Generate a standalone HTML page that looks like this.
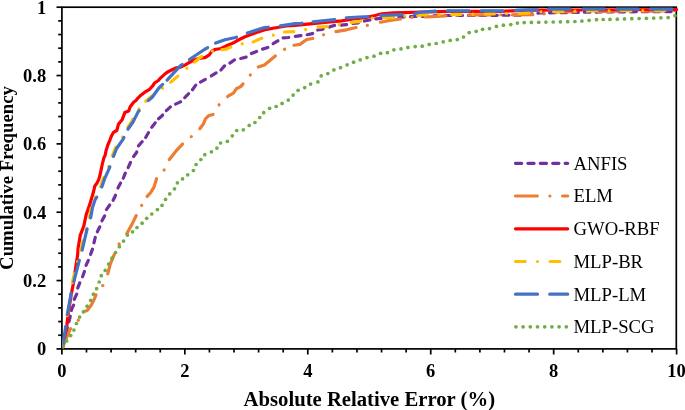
<!DOCTYPE html>
<html><head><meta charset="utf-8"><style>
html,body{margin:0;padding:0;background:#fff;width:685px;height:410px;overflow:hidden}
svg{display:block;filter:blur(0.35px)}
text{font-family:"Liberation Serif",serif}
</style></head><body>
<svg width="685" height="410" viewBox="0 0 685 410">
<rect width="685" height="410" fill="#fff"/>
<defs><clipPath id="pc"><rect x="62.4" y="0" width="622" height="348.2"/></clipPath></defs>
<g stroke="#000" stroke-width="1.7" fill="none">
<rect x="61.9" y="7.2" width="614.40" height="341.70"/>
<line x1="56.5" y1="348.90" x2="61.9" y2="348.90"/>
<line x1="58.2" y1="335.23" x2="61.9" y2="335.23"/>
<line x1="58.2" y1="321.56" x2="61.9" y2="321.56"/>
<line x1="58.2" y1="307.90" x2="61.9" y2="307.90"/>
<line x1="58.2" y1="294.23" x2="61.9" y2="294.23"/>
<line x1="56.5" y1="280.56" x2="61.9" y2="280.56"/>
<line x1="58.2" y1="266.89" x2="61.9" y2="266.89"/>
<line x1="58.2" y1="253.22" x2="61.9" y2="253.22"/>
<line x1="58.2" y1="239.56" x2="61.9" y2="239.56"/>
<line x1="58.2" y1="225.89" x2="61.9" y2="225.89"/>
<line x1="56.5" y1="212.22" x2="61.9" y2="212.22"/>
<line x1="58.2" y1="198.55" x2="61.9" y2="198.55"/>
<line x1="58.2" y1="184.88" x2="61.9" y2="184.88"/>
<line x1="58.2" y1="171.22" x2="61.9" y2="171.22"/>
<line x1="58.2" y1="157.55" x2="61.9" y2="157.55"/>
<line x1="56.5" y1="143.88" x2="61.9" y2="143.88"/>
<line x1="58.2" y1="130.21" x2="61.9" y2="130.21"/>
<line x1="58.2" y1="116.54" x2="61.9" y2="116.54"/>
<line x1="58.2" y1="102.88" x2="61.9" y2="102.88"/>
<line x1="58.2" y1="89.21" x2="61.9" y2="89.21"/>
<line x1="56.5" y1="75.54" x2="61.9" y2="75.54"/>
<line x1="58.2" y1="61.87" x2="61.9" y2="61.87"/>
<line x1="58.2" y1="48.20" x2="61.9" y2="48.20"/>
<line x1="58.2" y1="34.54" x2="61.9" y2="34.54"/>
<line x1="58.2" y1="20.87" x2="61.9" y2="20.87"/>
<line x1="56.5" y1="7.20" x2="61.9" y2="7.20"/>
<line x1="61.90" y1="348.9" x2="61.90" y2="354.5"/>
<line x1="86.49" y1="348.9" x2="86.49" y2="352.5"/>
<line x1="111.08" y1="348.9" x2="111.08" y2="352.5"/>
<line x1="135.66" y1="348.9" x2="135.66" y2="352.5"/>
<line x1="160.25" y1="348.9" x2="160.25" y2="352.5"/>
<line x1="184.84" y1="348.9" x2="184.84" y2="354.5"/>
<line x1="209.43" y1="348.9" x2="209.43" y2="352.5"/>
<line x1="234.02" y1="348.9" x2="234.02" y2="352.5"/>
<line x1="258.60" y1="348.9" x2="258.60" y2="352.5"/>
<line x1="283.19" y1="348.9" x2="283.19" y2="352.5"/>
<line x1="307.78" y1="348.9" x2="307.78" y2="354.5"/>
<line x1="332.37" y1="348.9" x2="332.37" y2="352.5"/>
<line x1="356.96" y1="348.9" x2="356.96" y2="352.5"/>
<line x1="381.54" y1="348.9" x2="381.54" y2="352.5"/>
<line x1="406.13" y1="348.9" x2="406.13" y2="352.5"/>
<line x1="430.72" y1="348.9" x2="430.72" y2="354.5"/>
<line x1="455.31" y1="348.9" x2="455.31" y2="352.5"/>
<line x1="479.90" y1="348.9" x2="479.90" y2="352.5"/>
<line x1="504.48" y1="348.9" x2="504.48" y2="352.5"/>
<line x1="529.07" y1="348.9" x2="529.07" y2="352.5"/>
<line x1="553.66" y1="348.9" x2="553.66" y2="354.5"/>
<line x1="578.25" y1="348.9" x2="578.25" y2="352.5"/>
<line x1="602.84" y1="348.9" x2="602.84" y2="352.5"/>
<line x1="627.42" y1="348.9" x2="627.42" y2="352.5"/>
<line x1="652.01" y1="348.9" x2="652.01" y2="352.5"/>
<line x1="676.60" y1="348.9" x2="676.60" y2="354.5"/>
</g>
<g clip-path="url(#pc)">
<polyline points="62.0,349.0 64.0,340.0 66.5,330.0 68.5,323.5 70.1,317.0 71.7,309.0 73.6,305.1 74.1,299.7 77.0,293.4 77.2,291.0" stroke="#7030A0" stroke-width="3.2" fill="none" stroke-linecap="round" stroke-linejoin="round" stroke-dasharray="5.6 6" stroke-dashoffset="6.56"/>
<polyline points="77.2,291.0 77.5,288.5 80.0,282.2 81.3,279.5" stroke="#7030A0" stroke-width="3.2" fill="none" stroke-linecap="round" stroke-linejoin="round" stroke-dasharray="5.6 6" stroke-dashoffset="8.60"/>
<polyline points="81.3,279.5 82.4,277.3 84.6,271.0 85.2,268.3" stroke="#7030A0" stroke-width="3.2" fill="none" stroke-linecap="round" stroke-linejoin="round" stroke-dasharray="5.6 6" stroke-dashoffset="8.60"/>
<polyline points="85.2,268.3 85.8,265.9 88.6,259.8 89.5,257.2" stroke="#7030A0" stroke-width="3.2" fill="none" stroke-linecap="round" stroke-linejoin="round" stroke-dasharray="5.6 6" stroke-dashoffset="8.60"/>
<polyline points="89.5,257.2 90.4,254.9 92.6,248.8 93.3,245.7" stroke="#7030A0" stroke-width="3.2" fill="none" stroke-linecap="round" stroke-linejoin="round" stroke-dasharray="5.6 6" stroke-dashoffset="8.60"/>
<polyline points="93.3,245.7 93.8,243.3 95.3,237.2 96.2,234.6" stroke="#7030A0" stroke-width="3.2" fill="none" stroke-linecap="round" stroke-linejoin="round" stroke-dasharray="5.6 6" stroke-dashoffset="8.60"/>
<polyline points="96.2,234.6 97.1,232.3 100.4,225.6 101.0,223.6" stroke="#7030A0" stroke-width="3.2" fill="none" stroke-linecap="round" stroke-linejoin="round" stroke-dasharray="5.6 6" stroke-dashoffset="8.60"/>
<polyline points="101.0,223.6 101.7,221.2 104.7,215.8 105.5,212.4" stroke="#7030A0" stroke-width="3.2" fill="none" stroke-linecap="round" stroke-linejoin="round" stroke-dasharray="5.6 6" stroke-dashoffset="8.60"/>
<polyline points="105.5,212.4 106.1,210.0 110.0,204.6 111.4,202.7" stroke="#7030A0" stroke-width="3.2" fill="none" stroke-linecap="round" stroke-linejoin="round" stroke-dasharray="5.6 6" stroke-dashoffset="8.60"/>
<polyline points="111.4,202.7 112.9,200.7 115.9,194.4 117.0,190.8" stroke="#7030A0" stroke-width="3.2" fill="none" stroke-linecap="round" stroke-linejoin="round" stroke-dasharray="5.6 6" stroke-dashoffset="8.60"/>
<polyline points="117.0,190.8 117.7,188.4 120.6,183.1 121.9,180.9" stroke="#7030A0" stroke-width="3.2" fill="none" stroke-linecap="round" stroke-linejoin="round" stroke-dasharray="5.6 6" stroke-dashoffset="8.60"/>
<polyline points="121.9,180.9 123.1,178.7 125.0,173.8 126.8,170.3" stroke="#7030A0" stroke-width="3.2" fill="none" stroke-linecap="round" stroke-linejoin="round" stroke-dasharray="5.6 6" stroke-dashoffset="8.60"/>
<polyline points="126.8,170.3 127.9,168.1 130.6,162.3 132.2,159.1" stroke="#7030A0" stroke-width="3.2" fill="none" stroke-linecap="round" stroke-linejoin="round" stroke-dasharray="5.6 6" stroke-dashoffset="8.60"/>
<polyline points="132.2,159.1 133.3,156.9 136.7,152.3 137.5,148.6" stroke="#7030A0" stroke-width="3.2" fill="none" stroke-linecap="round" stroke-linejoin="round" stroke-dasharray="5.6 6" stroke-dashoffset="8.60"/>
<polyline points="137.5,148.6 138.1,146.2 141.6,142.3 143.8,139.8" stroke="#7030A0" stroke-width="3.2" fill="none" stroke-linecap="round" stroke-linejoin="round" stroke-dasharray="5.6 6" stroke-dashoffset="8.60"/>
<polyline points="143.8,139.8 145.4,137.9 148.4,132.8 150.2,129.8" stroke="#7030A0" stroke-width="3.2" fill="none" stroke-linecap="round" stroke-linejoin="round" stroke-dasharray="5.6 6" stroke-dashoffset="8.60"/>
<polyline points="150.2,129.8 151.4,127.6 154.8,123.4 156.6,121.1" stroke="#7030A0" stroke-width="3.2" fill="none" stroke-linecap="round" stroke-linejoin="round" stroke-dasharray="5.6 6" stroke-dashoffset="8.60"/>
<polyline points="156.6,121.1 158.2,119.1 162.1,115.7 164.3,112.9" stroke="#7030A0" stroke-width="3.2" fill="none" stroke-linecap="round" stroke-linejoin="round" stroke-dasharray="5.6 6" stroke-dashoffset="8.60"/>
<polyline points="164.3,112.9 165.9,111.0 170.2,107.1 172.9,105.5" stroke="#7030A0" stroke-width="3.2" fill="none" stroke-linecap="round" stroke-linejoin="round" stroke-dasharray="5.6 6" stroke-dashoffset="8.60"/>
<polyline points="172.9,105.5 175.1,104.3 180.5,101.9 182.6,99.8" stroke="#7030A0" stroke-width="3.2" fill="none" stroke-linecap="round" stroke-linejoin="round" stroke-dasharray="5.6 6" stroke-dashoffset="8.60"/>
<polyline points="182.6,99.8 184.4,98.0 188.3,94.0 190.4,91.9" stroke="#7030A0" stroke-width="3.2" fill="none" stroke-linecap="round" stroke-linejoin="round" stroke-dasharray="5.6 6" stroke-dashoffset="8.60"/>
<polyline points="190.4,91.9 192.2,90.1 195.6,85.3 197.9,83.7" stroke="#7030A0" stroke-width="3.2" fill="none" stroke-linecap="round" stroke-linejoin="round" stroke-dasharray="5.6 6" stroke-dashoffset="8.60"/>
<polyline points="197.9,83.7 200.0,82.3 205.4,79.4 208.8,77.4" stroke="#7030A0" stroke-width="3.2" fill="none" stroke-linecap="round" stroke-linejoin="round" stroke-dasharray="5.6 6" stroke-dashoffset="8.60"/>
<polyline points="208.8,77.4 210.9,76.1 215.7,73.2 218.4,71.6" stroke="#7030A0" stroke-width="3.2" fill="none" stroke-linecap="round" stroke-linejoin="round" stroke-dasharray="5.6 6" stroke-dashoffset="8.60"/>
<polyline points="218.4,71.6 220.6,70.3 224.5,65.9 227.2,64.5" stroke="#7030A0" stroke-width="3.2" fill="none" stroke-linecap="round" stroke-linejoin="round" stroke-dasharray="5.6 6" stroke-dashoffset="8.60"/>
<polyline points="227.2,64.5 229.4,63.4 234.3,60.0 237.8,59.2" stroke="#7030A0" stroke-width="3.2" fill="none" stroke-linecap="round" stroke-linejoin="round" stroke-dasharray="5.6 6" stroke-dashoffset="8.60"/>
<polyline points="237.8,59.2 240.2,58.6 246.5,57.1 248.9,55.2" stroke="#7030A0" stroke-width="3.2" fill="none" stroke-linecap="round" stroke-linejoin="round" stroke-dasharray="5.6 6" stroke-dashoffset="8.60"/>
<polyline points="248.9,55.2 250.9,53.7 257.1,51.2 259.7,50.2" stroke="#7030A0" stroke-width="3.2" fill="none" stroke-linecap="round" stroke-linejoin="round" stroke-dasharray="5.6 6" stroke-dashoffset="8.60"/>
<polyline points="259.7,50.2 262.0,49.3 268.3,47.3 270.7,45.4" stroke="#7030A0" stroke-width="3.2" fill="none" stroke-linecap="round" stroke-linejoin="round" stroke-dasharray="5.6 6" stroke-dashoffset="8.60"/>
<polyline points="270.7,45.4 272.7,43.9 277.6,41.0 282.1,38.0 288.6,37.5 292.5,36.9" stroke="#7030A0" stroke-width="3.2" fill="none" stroke-linecap="round" stroke-linejoin="round" stroke-dasharray="5.6 6" stroke-dashoffset="8.60"/>
<polyline points="292.5,36.9 295.0,36.5 300.8,35.6 304.2,35.1" stroke="#7030A0" stroke-width="3.2" fill="none" stroke-linecap="round" stroke-linejoin="round" stroke-dasharray="5.6 6" stroke-dashoffset="8.60"/>
<polyline points="304.2,35.1 306.7,34.8 312.5,33.6 315.2,31.6" stroke="#7030A0" stroke-width="3.2" fill="none" stroke-linecap="round" stroke-linejoin="round" stroke-dasharray="5.6 6" stroke-dashoffset="8.60"/>
<polyline points="315.2,31.6 317.2,30.1 321.9,29.5 326.5,28.0" stroke="#7030A0" stroke-width="3.2" fill="none" stroke-linecap="round" stroke-linejoin="round" stroke-dasharray="5.6 6" stroke-dashoffset="8.60"/>
<polyline points="326.5,28.0 328.9,27.2 334.1,25.4 338.0,25.2" stroke="#7030A0" stroke-width="3.2" fill="none" stroke-linecap="round" stroke-linejoin="round" stroke-dasharray="5.6 6" stroke-dashoffset="8.60"/>
<polyline points="338.0,25.2 340.5,25.1 347.0,24.6 349.8,24.0" stroke="#7030A0" stroke-width="3.2" fill="none" stroke-linecap="round" stroke-linejoin="round" stroke-dasharray="5.6 6" stroke-dashoffset="8.60"/>
<polyline points="349.8,24.0 352.2,23.5 358.7,22.8 361.5,21.9" stroke="#7030A0" stroke-width="3.2" fill="none" stroke-linecap="round" stroke-linejoin="round" stroke-dasharray="5.6 6" stroke-dashoffset="8.60"/>
<polyline points="361.5,21.9 363.9,21.1 369.8,20.0 375.8,18.8 405.0,16.8 416.7,16.5 445.0,15.5 520.0,15.2 540.0,13.0 600.0,12.0 676.6,11.5" stroke="#7030A0" stroke-width="3.2" fill="none" stroke-linecap="round" stroke-linejoin="round" stroke-dasharray="5.6 6" stroke-dashoffset="8.60"/>
<polyline points="62.0,349.0 66.3,338.1 68.2,334.3 70.1,329.2 74.0,325.0 78.3,320.3 83.4,311.8 87.1,310.6 91.5,304.8 94.4,298.9 96.3,293.8 103.5,284.6 105.6,279.2" stroke="#ED7D31" stroke-width="3.2" fill="none" stroke-linecap="round" stroke-linejoin="round" stroke-dasharray="20.5 11.5 0.01 11.5" stroke-dashoffset="42.00"/>
<polyline points="105.6,279.2 107.8,273.5 110.3,264.1 113.8,255.6 119.7,242.8 123.2,238.3" stroke="#ED7D31" stroke-width="3.2" fill="none" stroke-linecap="round" stroke-linejoin="round" stroke-dasharray="20.5 11.5 0.01 11.5" stroke-dashoffset="37.75"/>
<polyline points="123.2,238.3 126.9,233.5 131.8,224.6 135.6,216.9 141.1,206.3 144.1,201.4" stroke="#ED7D31" stroke-width="3.2" fill="none" stroke-linecap="round" stroke-linejoin="round" stroke-dasharray="20.5 11.5 0.01 11.5" stroke-dashoffset="37.75"/>
<polyline points="144.1,201.4 147.2,196.4 150.9,192.2 154.0,187.1 156.6,178.5 164.2,170.0 166.7,164.8" stroke="#ED7D31" stroke-width="3.2" fill="none" stroke-linecap="round" stroke-linejoin="round" stroke-dasharray="20.5 11.5 0.01 11.5" stroke-dashoffset="37.75"/>
<polyline points="166.7,164.8 169.3,159.5 176.3,150.7 182.5,144.1 191.3,136.6 195.6,132.7" stroke="#ED7D31" stroke-width="3.2" fill="none" stroke-linecap="round" stroke-linejoin="round" stroke-dasharray="20.5 11.5 0.01 11.5" stroke-dashoffset="37.75"/>
<polyline points="195.6,132.7 199.7,129.0 203.4,123.9 205.6,118.7 208.5,115.8 213.3,114.4 219.3,104.4 223.4,100.5" stroke="#ED7D31" stroke-width="3.2" fill="none" stroke-linecap="round" stroke-linejoin="round" stroke-dasharray="20.5 11.5 0.01 11.5" stroke-dashoffset="37.75"/>
<polyline points="223.4,100.5 228.0,96.2 233.4,93.2 236.3,88.8 240.7,86.6 243.2,83.7 250.2,75.1 254.2,70.9" stroke="#ED7D31" stroke-width="3.2" fill="none" stroke-linecap="round" stroke-linejoin="round" stroke-dasharray="20.5 11.5 0.01 11.5" stroke-dashoffset="37.75"/>
<polyline points="254.2,70.9 257.6,67.3 264.4,64.9 269.3,61.0 274.6,56.6 283.4,49.8 288.6,47.3" stroke="#ED7D31" stroke-width="3.2" fill="none" stroke-linecap="round" stroke-linejoin="round" stroke-dasharray="20.5 11.5 0.01 11.5" stroke-dashoffset="37.75"/>
<polyline points="288.6,47.3 292.7,45.4 300.0,44.4 306.7,39.5 313.7,38.3 324.8,34.4 330.4,33.0" stroke="#ED7D31" stroke-width="3.2" fill="none" stroke-linecap="round" stroke-linejoin="round" stroke-dasharray="20.5 11.5 0.01 11.5" stroke-dashoffset="37.75"/>
<polyline points="330.4,33.0 335.9,31.6 346.4,29.8 357.5,27.2 369.2,25.1 374.8,23.6" stroke="#ED7D31" stroke-width="3.2" fill="none" stroke-linecap="round" stroke-linejoin="round" stroke-dasharray="20.5 11.5 0.01 11.5" stroke-dashoffset="37.75"/>
<polyline points="374.8,23.6 379.9,22.3 390.0,20.5 402.1,18.8 413.8,17.0 419.6,17.0" stroke="#ED7D31" stroke-width="3.2" fill="none" stroke-linecap="round" stroke-linejoin="round" stroke-dasharray="20.5 11.5 0.01 11.5" stroke-dashoffset="37.75"/>
<polyline points="419.6,17.0 426.1,17.0 447.1,15.8 475.6,14.9 541.0,14.7 550.0,12.0 600.0,11.4 676.6,10.8" stroke="#ED7D31" stroke-width="3.2" fill="none" stroke-linecap="round" stroke-linejoin="round" stroke-dasharray="20.5 11.5 0.01 11.5" stroke-dashoffset="37.75"/>
<polyline points="62.0,349.0 64.5,338.0 66.9,325.0 68.0,315.0 71.0,296.0 73.2,284.3 75.4,269.6 77.6,255.0 78.1,248.3 80.3,235.1 83.7,226.4 86.2,214.6 89.9,204.1 91.3,199.2 92.8,194.3 94.3,188.4 94.8,186.0 96.7,183.6 98.7,179.6 100.1,174.8 101.1,169.9 102.1,165.0 103.7,158.3 105.1,155.4 106.1,150.5 108.0,144.6 110.0,139.8 111.5,135.9 113.4,132.4 116.8,130.5 118.4,124.3 122.3,119.4 124.8,112.6 128.7,111.1 130.2,106.7 133.6,102.3 136.0,100.4 137.9,98.1 140.9,95.2 144.8,92.2 149.6,89.3 153.1,85.4 154.5,83.0 158.4,80.5 160.4,78.1 164.3,74.6 167.2,72.2 172.1,69.8 176.0,67.8 180.0,67.4 184.9,65.1 189.8,62.2 194.6,59.8 199.5,58.3 205.4,57.3 209.3,54.9 212.2,51.0 215.1,49.5 221.0,48.5 225.9,46.1 230.7,44.1 234.6,42.2 239.3,39.5 245.0,36.8 250.2,34.7 257.9,32.0 266.7,29.3 274.4,28.0 286.4,26.0 295.0,25.4 312.5,23.7 330.0,21.9 341.7,20.8 353.4,19.0 365.1,17.6 375.0,15.5 381.7,13.8 393.4,12.9 413.2,12.3 428.4,11.8 450.0,11.4 500.0,11.4 530.0,10.2 580.0,10.0 676.6,9.5" stroke="#FF0000" stroke-width="3.2" fill="none" stroke-linecap="round" stroke-linejoin="round"/>
<polyline points="62.5,348.0 65.9,325.4 67.3,315.0 71.0,293.8 72.7,280.9 77.8,261.1 81.0,249.3 86.0,228.0 89.4,217.8 91.3,207.0 93.8,199.5 95.4,197.0 100.5,186.9 103.6,177.8 108.2,167.7 110.3,161.5" stroke="#FFC000" stroke-width="3.2" fill="none" stroke-linecap="round" stroke-linejoin="round" stroke-dasharray="9.4 12 0.01 12.1" stroke-dashoffset="0.76"/>
<polyline points="110.3,161.5 112.1,156.2 115.4,148.0 121.8,138.9 124.9,132.5" stroke="#FFC000" stroke-width="3.2" fill="none" stroke-linecap="round" stroke-linejoin="round" stroke-dasharray="9.4 12 0.01 12.1" stroke-dashoffset="27.40"/>
<polyline points="124.9,132.5 126.7,128.8 131.8,121.5 136.9,111.4 141.6,105.8" stroke="#FFC000" stroke-width="3.2" fill="none" stroke-linecap="round" stroke-linejoin="round" stroke-dasharray="9.4 12 0.01 12.1" stroke-dashoffset="27.40"/>
<polyline points="141.6,105.8 144.6,102.3 151.0,96.8 165.8,85.9" stroke="#FFC000" stroke-width="3.2" fill="none" stroke-linecap="round" stroke-linejoin="round" stroke-dasharray="9.4 12 0.01 12.1" stroke-dashoffset="27.40"/>
<polyline points="165.8,85.9 170.2,82.7 184.9,70.0 189.7,66.0" stroke="#FFC000" stroke-width="3.2" fill="none" stroke-linecap="round" stroke-linejoin="round" stroke-dasharray="9.4 12 0.01 12.1" stroke-dashoffset="27.40"/>
<polyline points="189.7,66.0 195.6,61.2 200.5,57.3 209.3,51.5 215.7,50.6" stroke="#FFC000" stroke-width="3.2" fill="none" stroke-linecap="round" stroke-linejoin="round" stroke-dasharray="9.4 12 0.01 12.1" stroke-dashoffset="27.40"/>
<polyline points="215.7,50.6 226.0,49.2 229.9,47.4 241.2,44.1 247.1,43.1" stroke="#FFC000" stroke-width="3.2" fill="none" stroke-linecap="round" stroke-linejoin="round" stroke-dasharray="9.4 12 0.01 12.1" stroke-dashoffset="27.40"/>
<polyline points="247.1,43.1 253.5,41.9 260.7,38.6 272.7,35.3 278.5,33.6" stroke="#FFC000" stroke-width="3.2" fill="none" stroke-linecap="round" stroke-linejoin="round" stroke-dasharray="9.4 12 0.01 12.1" stroke-dashoffset="27.40"/>
<polyline points="278.5,33.6 284.2,32.0 295.0,31.5 306.1,29.5 312.0,28.3" stroke="#FFC000" stroke-width="3.2" fill="none" stroke-linecap="round" stroke-linejoin="round" stroke-dasharray="9.4 12 0.01 12.1" stroke-dashoffset="27.40"/>
<polyline points="312.0,28.3 317.2,27.2 327.7,26.6 339.4,24.6 345.3,23.5" stroke="#FFC000" stroke-width="3.2" fill="none" stroke-linecap="round" stroke-linejoin="round" stroke-dasharray="9.4 12 0.01 12.1" stroke-dashoffset="27.40"/>
<polyline points="345.3,23.5 351.1,22.5 360.4,21.4 371.5,18.1 377.5,17.8" stroke="#FFC000" stroke-width="3.2" fill="none" stroke-linecap="round" stroke-linejoin="round" stroke-dasharray="9.4 12 0.01 12.1" stroke-dashoffset="27.40"/>
<polyline points="377.5,17.8 383.4,17.6 393.4,17.6 405.6,16.1 411.6,15.7" stroke="#FFC000" stroke-width="3.2" fill="none" stroke-linecap="round" stroke-linejoin="round" stroke-dasharray="9.4 12 0.01 12.1" stroke-dashoffset="27.40"/>
<polyline points="411.6,15.7 417.9,15.3 427.2,14.7 439.5,14.7 445.5,14.6" stroke="#FFC000" stroke-width="3.2" fill="none" stroke-linecap="round" stroke-linejoin="round" stroke-dasharray="9.4 12 0.01 12.1" stroke-dashoffset="27.40"/>
<polyline points="445.5,14.6 479.0,14.1" stroke="#FFC000" stroke-width="3.2" fill="none" stroke-linecap="round" stroke-linejoin="round" stroke-dasharray="9.4 12 0.01 12.1" stroke-dashoffset="27.40"/>
<polyline points="479.0,14.1 513.5,13.6" stroke="#FFC000" stroke-width="3.2" fill="none" stroke-linecap="round" stroke-linejoin="round" stroke-dasharray="9.4 12 0.01 12.1" stroke-dashoffset="27.40"/>
<polyline points="513.5,13.6 520.0,13.5 541.4,11.8 547.4,11.7" stroke="#FFC000" stroke-width="3.2" fill="none" stroke-linecap="round" stroke-linejoin="round" stroke-dasharray="9.4 12 0.01 12.1" stroke-dashoffset="27.40"/>
<polyline points="547.4,11.7 580.0,11.0 581.5,11.0" stroke="#FFC000" stroke-width="3.2" fill="none" stroke-linecap="round" stroke-linejoin="round" stroke-dasharray="9.4 12 0.01 12.1" stroke-dashoffset="27.40"/>
<polyline points="581.5,11.0 615.3,10.8" stroke="#FFC000" stroke-width="3.2" fill="none" stroke-linecap="round" stroke-linejoin="round" stroke-dasharray="9.4 12 0.01 12.1" stroke-dashoffset="27.40"/>
<polyline points="615.3,10.8 649.4,10.6" stroke="#FFC000" stroke-width="3.2" fill="none" stroke-linecap="round" stroke-linejoin="round" stroke-dasharray="9.4 12 0.01 12.1" stroke-dashoffset="27.40"/>
<polyline points="649.4,10.6 676.6,10.5" stroke="#FFC000" stroke-width="3.2" fill="none" stroke-linecap="round" stroke-linejoin="round" stroke-dasharray="9.4 12 0.01 12.1" stroke-dashoffset="27.40"/>
<polyline points="62.5,348.0 65.9,325.4 67.3,315.0 71.0,293.8 73.9,281.4 79.0,261.6 80.6,255.8" stroke="#4472C4" stroke-width="3.2" fill="none" stroke-linecap="round" stroke-linejoin="round" stroke-dasharray="21.8 11.9" stroke-dashoffset="33.60"/>
<polyline points="80.6,255.8 82.2,249.8 87.2,228.5 88.9,223.5" stroke="#4472C4" stroke-width="3.2" fill="none" stroke-linecap="round" stroke-linejoin="round" stroke-dasharray="21.8 11.9" stroke-dashoffset="27.75"/>
<polyline points="88.9,223.5 90.6,218.3 92.5,207.5 95.0,200.0 96.6,197.5 99.2,192.4" stroke="#4472C4" stroke-width="3.2" fill="none" stroke-linecap="round" stroke-linejoin="round" stroke-dasharray="21.8 11.9" stroke-dashoffset="27.75"/>
<polyline points="99.2,192.4 101.7,187.4 104.8,178.3 109.4,168.2 111.5,161.9" stroke="#4472C4" stroke-width="3.2" fill="none" stroke-linecap="round" stroke-linejoin="round" stroke-dasharray="21.8 11.9" stroke-dashoffset="27.75"/>
<polyline points="111.5,161.9 113.3,156.7 116.6,148.5 123.0,139.4 125.3,134.6" stroke="#4472C4" stroke-width="3.2" fill="none" stroke-linecap="round" stroke-linejoin="round" stroke-dasharray="21.8 11.9" stroke-dashoffset="27.75"/>
<polyline points="125.3,134.6 127.9,129.3 133.0,122.0 138.1,111.9 144.1,104.8" stroke="#4472C4" stroke-width="3.2" fill="none" stroke-linecap="round" stroke-linejoin="round" stroke-dasharray="21.8 11.9" stroke-dashoffset="27.75"/>
<polyline points="144.1,104.8 145.8,102.8 152.2,97.3 158.5,88.5 162.8,84.2" stroke="#4472C4" stroke-width="3.2" fill="none" stroke-linecap="round" stroke-linejoin="round" stroke-dasharray="21.8 11.9" stroke-dashoffset="27.75"/>
<polyline points="162.8,84.2 167.3,79.8 180.0,66.1 184.6,62.9" stroke="#4472C4" stroke-width="3.2" fill="none" stroke-linecap="round" stroke-linejoin="round" stroke-dasharray="21.8 11.9" stroke-dashoffset="27.75"/>
<polyline points="184.6,62.9 189.8,59.3 204.4,49.5 210.4,46.0" stroke="#4472C4" stroke-width="3.2" fill="none" stroke-linecap="round" stroke-linejoin="round" stroke-dasharray="21.8 11.9" stroke-dashoffset="27.75"/>
<polyline points="210.4,46.0 215.1,43.3 225.0,39.7 235.6,37.5 241.8,35.1" stroke="#4472C4" stroke-width="3.2" fill="none" stroke-linecap="round" stroke-linejoin="round" stroke-dasharray="21.8 11.9" stroke-dashoffset="27.75"/>
<polyline points="241.8,35.1 246.9,33.1 255.7,30.4 264.5,27.6 274.5,26.6" stroke="#4472C4" stroke-width="3.2" fill="none" stroke-linecap="round" stroke-linejoin="round" stroke-dasharray="21.8 11.9" stroke-dashoffset="27.75"/>
<polyline points="274.5,26.6 280.0,26.0 295.0,23.6 301.4,23.3 307.1,22.6" stroke="#4472C4" stroke-width="3.2" fill="none" stroke-linecap="round" stroke-linejoin="round" stroke-dasharray="21.8 11.9" stroke-dashoffset="27.75"/>
<polyline points="307.1,22.6 312.5,21.9 334.7,19.6 340.4,18.7" stroke="#4472C4" stroke-width="3.2" fill="none" stroke-linecap="round" stroke-linejoin="round" stroke-dasharray="21.8 11.9" stroke-dashoffset="27.75"/>
<polyline points="340.4,18.7 345.8,17.8 368.0,16.7 374.5,15.9" stroke="#4472C4" stroke-width="3.2" fill="none" stroke-linecap="round" stroke-linejoin="round" stroke-dasharray="21.8 11.9" stroke-dashoffset="27.75"/>
<polyline points="374.5,15.9 379.9,15.3 402.1,14.7 408.4,14.4" stroke="#4472C4" stroke-width="3.2" fill="none" stroke-linecap="round" stroke-linejoin="round" stroke-dasharray="21.8 11.9" stroke-dashoffset="27.75"/>
<polyline points="408.4,14.4 413.8,14.1 419.1,12.3 435.4,11.2 441.4,11.0" stroke="#4472C4" stroke-width="3.2" fill="none" stroke-linecap="round" stroke-linejoin="round" stroke-dasharray="21.8 11.9" stroke-dashoffset="27.75"/>
<polyline points="441.4,11.0 447.1,10.9 475.1,10.9" stroke="#4472C4" stroke-width="3.2" fill="none" stroke-linecap="round" stroke-linejoin="round" stroke-dasharray="21.8 11.9" stroke-dashoffset="27.75"/>
<polyline points="475.1,10.9 504.0,10.9 509.6,10.7" stroke="#4472C4" stroke-width="3.2" fill="none" stroke-linecap="round" stroke-linejoin="round" stroke-dasharray="21.8 11.9" stroke-dashoffset="27.75"/>
<polyline points="509.6,10.7 520.0,10.2 538.0,9.8 542.6,9.5" stroke="#4472C4" stroke-width="3.2" fill="none" stroke-linecap="round" stroke-linejoin="round" stroke-dasharray="21.8 11.9" stroke-dashoffset="27.75"/>
<polyline points="542.6,9.5 548.0,9.1 577.0,9.1" stroke="#4472C4" stroke-width="3.2" fill="none" stroke-linecap="round" stroke-linejoin="round" stroke-dasharray="21.8 11.9" stroke-dashoffset="27.75"/>
<polyline points="577.0,9.1 676.6,9.1" stroke="#4472C4" stroke-width="3.2" fill="none" stroke-linecap="round" stroke-linejoin="round" stroke-dasharray="21.8 11.9" stroke-dashoffset="27.75"/>
<g fill="#70AD47"><circle cx="63.1" cy="346.3" r="1.85"/><circle cx="66.6" cy="340.9" r="1.85"/><circle cx="70.7" cy="335.6" r="1.85"/><circle cx="73.9" cy="330.1" r="1.85"/><circle cx="76.4" cy="323.5" r="1.85"/><circle cx="79.6" cy="317.1" r="1.85"/><circle cx="83.4" cy="311.8" r="1.85"/><circle cx="87.1" cy="306.2" r="1.85"/><circle cx="90.7" cy="300.4" r="1.85"/><circle cx="93.4" cy="294.2" r="1.85"/><circle cx="96.6" cy="288.7" r="1.85"/><circle cx="99.2" cy="282.0" r="1.85"/><circle cx="101.3" cy="275.7" r="1.85"/><circle cx="105.2" cy="270.4" r="1.85"/><circle cx="108.6" cy="264.1" r="1.85"/><circle cx="112.0" cy="258.2" r="1.85"/><circle cx="115.5" cy="252.5" r="1.85"/><circle cx="119.4" cy="246.7" r="1.85"/><circle cx="123.5" cy="241.1" r="1.85"/><circle cx="127.4" cy="235.1" r="1.85"/><circle cx="132.5" cy="231.8" r="1.85"/><circle cx="137.0" cy="227.5" r="1.85"/><circle cx="142.1" cy="223.2" r="1.85"/><circle cx="146.7" cy="218.3" r="1.85"/><circle cx="151.8" cy="214.0" r="1.85"/><circle cx="157.4" cy="209.6" r="1.85"/><circle cx="162.0" cy="205.3" r="1.85"/><circle cx="165.5" cy="199.4" r="1.85"/><circle cx="169.7" cy="193.9" r="1.85"/><circle cx="174.5" cy="188.8" r="1.85"/><circle cx="177.4" cy="182.8" r="1.85"/><circle cx="182.5" cy="178.9" r="1.85"/><circle cx="187.7" cy="174.8" r="1.85"/><circle cx="193.4" cy="170.5" r="1.85"/><circle cx="196.1" cy="164.5" r="1.85"/><circle cx="200.9" cy="159.5" r="1.85"/><circle cx="204.8" cy="154.7" r="1.85"/><circle cx="211.4" cy="151.8" r="1.85"/><circle cx="216.9" cy="148.1" r="1.85"/><circle cx="220.6" cy="143.0" r="1.85"/><circle cx="227.4" cy="141.3" r="1.85"/><circle cx="232.3" cy="135.8" r="1.85"/><circle cx="236.7" cy="130.5" r="1.85"/><circle cx="243.3" cy="129.8" r="1.85"/><circle cx="249.2" cy="125.4" r="1.85"/><circle cx="254.9" cy="122.5" r="1.85"/><circle cx="259.7" cy="117.5" r="1.85"/><circle cx="263.7" cy="112.7" r="1.85"/><circle cx="269.6" cy="108.3" r="1.85"/><circle cx="276.2" cy="106.5" r="1.85"/><circle cx="282.1" cy="103.4" r="1.85"/><circle cx="288.3" cy="100.1" r="1.85"/><circle cx="293.1" cy="95.1" r="1.85"/><circle cx="298.1" cy="90.3" r="1.85"/><circle cx="304.7" cy="87.6" r="1.85"/><circle cx="310.6" cy="84.1" r="1.85"/><circle cx="317.9" cy="81.9" r="1.85"/><circle cx="321.2" cy="75.8" r="1.85"/><circle cx="327.8" cy="73.6" r="1.85"/><circle cx="333.9" cy="69.9" r="1.85"/><circle cx="340.5" cy="67.7" r="1.85"/><circle cx="347.1" cy="64.8" r="1.85"/><circle cx="353.6" cy="62.2" r="1.85"/><circle cx="360.2" cy="59.8" r="1.85"/><circle cx="367.0" cy="57.6" r="1.85"/><circle cx="374.0" cy="56.2" r="1.85"/><circle cx="380.6" cy="53.3" r="1.85"/><circle cx="387.4" cy="52.7" r="1.85"/><circle cx="393.9" cy="49.8" r="1.85"/><circle cx="401.0" cy="48.9" r="1.85"/><circle cx="407.9" cy="47.4" r="1.85"/><circle cx="415.2" cy="46.6" r="1.85"/><circle cx="422.2" cy="46.2" r="1.85"/><circle cx="429.2" cy="44.4" r="1.85"/><circle cx="436.2" cy="43.5" r="1.85"/><circle cx="443.2" cy="41.8" r="1.85"/><circle cx="450.2" cy="40.4" r="1.85"/><circle cx="457.3" cy="39.6" r="1.85"/><circle cx="463.5" cy="37.0" r="1.85"/><circle cx="469.2" cy="32.6" r="1.85"/><circle cx="476.2" cy="31.3" r="1.85"/><circle cx="482.6" cy="29.3" r="1.85"/><circle cx="489.5" cy="28.6" r="1.85"/><circle cx="496.4" cy="26.4" r="1.85"/><circle cx="503.4" cy="25.2" r="1.85"/><circle cx="510.8" cy="24.6" r="1.85"/><circle cx="517.4" cy="23.1" r="1.85"/><circle cx="524.2" cy="22.6" r="1.85"/><circle cx="531.4" cy="22.4" r="1.85"/><circle cx="538.7" cy="22.3" r="1.85"/><circle cx="545.9" cy="22.1" r="1.85"/><circle cx="553.2" cy="22.0" r="1.85"/><circle cx="560.4" cy="21.8" r="1.85"/><circle cx="567.7" cy="21.7" r="1.85"/><circle cx="574.9" cy="21.5" r="1.85"/><circle cx="581.9" cy="21.1" r="1.85"/><circle cx="589.1" cy="20.3" r="1.85"/><circle cx="596.5" cy="19.7" r="1.85"/><circle cx="603.2" cy="19.5" r="1.85"/><circle cx="610.0" cy="19.4" r="1.85"/><circle cx="617.3" cy="19.2" r="1.85"/><circle cx="624.5" cy="18.9" r="1.85"/><circle cx="631.8" cy="18.7" r="1.85"/><circle cx="639.1" cy="18.5" r="1.85"/><circle cx="646.4" cy="18.3" r="1.85"/><circle cx="653.7" cy="18.1" r="1.85"/><circle cx="660.9" cy="17.8" r="1.85"/><circle cx="668.2" cy="17.6" r="1.85"/><circle cx="675.0" cy="15.7" r="1.85"/></g>
</g>
<g font-weight="bold" font-size="18.5" fill="#000">
<text x="46.2" y="355.2" text-anchor="end">0</text>
<text x="46.2" y="286.9" text-anchor="end">0.2</text>
<text x="46.2" y="218.5" text-anchor="end">0.4</text>
<text x="46.2" y="150.2" text-anchor="end">0.6</text>
<text x="46.2" y="81.8" text-anchor="end">0.8</text>
<text x="46.2" y="13.5" text-anchor="end">1</text>
<text x="61.9" y="376.5" text-anchor="middle">0</text>
<text x="184.8" y="376.5" text-anchor="middle">2</text>
<text x="307.8" y="376.5" text-anchor="middle">4</text>
<text x="430.7" y="376.5" text-anchor="middle">6</text>
<text x="553.7" y="376.5" text-anchor="middle">8</text>
<text x="676.6" y="376.5" text-anchor="middle">10</text>
</g>
<text x="369.3" y="406.1" text-anchor="middle" font-weight="bold" font-size="20.7">Absolute Relative Error (%)</text>
<text transform="translate(12.8,178) rotate(-90)" text-anchor="middle" font-weight="bold" font-size="18.8">Cumulative Frequency</text>
<g font-size="18.7" fill="#000">
<line x1="515.5" y1="163.3" x2="567.7" y2="163.3" stroke="#7030A0" stroke-width="3.2" fill="none" stroke-linecap="round" stroke-linejoin="round" stroke-dasharray="6.2 6.2"/>
<text x="573.5" y="169.7">ANFIS</text>
<line x1="515.5" y1="196.0" x2="567.7" y2="196.0" stroke="#ED7D31" stroke-width="3.2" fill="none" stroke-linecap="round" stroke-linejoin="round" stroke-dasharray="21.8 12.6 0.01 12.7"/>
<text x="573.5" y="202.4">ELM</text>
<line x1="515.5" y1="228.8" x2="567.7" y2="228.8" stroke="#FF0000" stroke-width="3.2" fill="none" stroke-linecap="round" stroke-linejoin="round"/>
<text x="573.5" y="235.2">GWO-RBF</text>
<line x1="515.5" y1="261.5" x2="567.7" y2="261.5" stroke="#FFC000" stroke-width="3.2" fill="none" stroke-linecap="round" stroke-linejoin="round" stroke-dasharray="9.7 12.3 0.01 12.6"/>
<text x="573.5" y="267.9">MLP-BR</text>
<line x1="515.5" y1="294.2" x2="567.7" y2="294.2" stroke="#4472C4" stroke-width="3.2" fill="none" stroke-linecap="round" stroke-linejoin="round" stroke-dasharray="22 12.2"/>
<text x="573.5" y="300.6">MLP-LM</text>
<g fill="#70AD47"><circle cx="515.90" cy="326.8" r="1.85"/><circle cx="523.10" cy="326.8" r="1.85"/><circle cx="530.30" cy="326.8" r="1.85"/><circle cx="537.50" cy="326.8" r="1.85"/><circle cx="544.70" cy="326.8" r="1.85"/><circle cx="551.90" cy="326.8" r="1.85"/><circle cx="559.10" cy="326.8" r="1.85"/><circle cx="566.30" cy="326.8" r="1.85"/></g>
<text x="573.5" y="333.2">MLP-SCG</text>
</g>
</svg>
</body></html>
